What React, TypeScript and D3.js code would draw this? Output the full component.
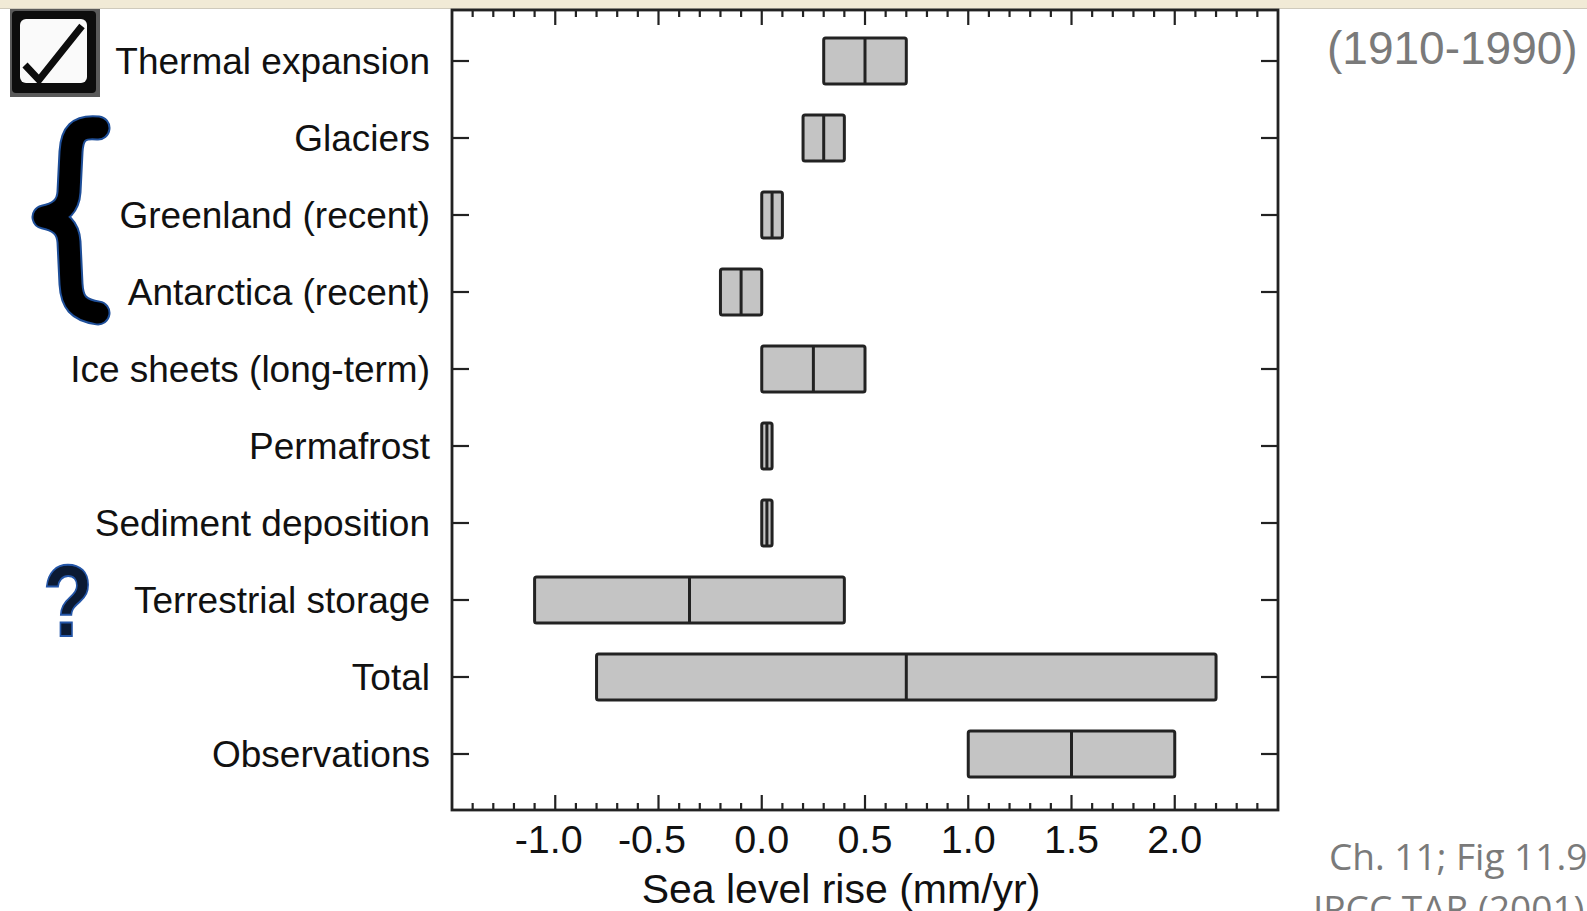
import * as React from 'react'
import * as d3 from 'd3'

// IPCC TAR fig 11.9 style contributions to sea level rise (1910-1990)
const categories = [
  'Thermal expansion',
  'Glaciers',
  'Greenland (recent)',
  'Antarctica (recent)',
  'Ice sheets (long-term)',
  'Permafrost',
  'Sediment deposition',
  'Terrestrial storage',
  'Total',
  'Observations',
]
const lows = [0.3, 0.2, 0.0, -0.2, 0.0, 0.0, 0.0, -1.1, -0.8, 1.0]
const highs = [0.7, 0.4, 0.1, 0.0, 0.5, 0.05, 0.05, 0.4, 2.2, 2.0]
const mids = [0.5, 0.3, 0.05, -0.1, 0.25, 0.025, 0.025, -0.35, 0.7, 1.5]
const tickLabels = ['-1.0', '-0.5', '0.0', '0.5', '1.0', '1.5', '2.0']

const W = 1587
const H = 911
const left = 452
const right = 1278
const top = 10
const bottom = 810

const App = () => {
  const x = d3.scaleLinear().domain([-1.5, 2.5]).range([left, right])
  const y = d3.scalePoint<string>().domain(categories).range([61, 754])
  const halfH = 23
  const font = '"Liberation Sans", Arial, Helvetica, sans-serif'

  const ticks = x.ticks(40).filter(t => t > -1.49 && t < 2.49)
  const isMajor = (t: number) => Math.abs(t * 2 - Math.round(t * 2)) < 1e-6
  const brace =
    'M98,128 C78,126 72,134 71,152 L69,192 C68,208 58,214 44,217 C58,220 68,226 69,242 L71,284 C72,302 78,310 98,313'

  return (
    <svg width={W} height={H} style={{ position: 'absolute', left: 0, top: 0, background: '#fff' }}>
      {/* top strip */}
      <rect x={0} y={0} width={W} height={8} fill="#f1ead6" />
      <line x1={0} x2={W} y1={8.5} y2={8.5} stroke="#cfcabc" strokeWidth={1} />

      {/* boxes */}
      {categories.map((c, i) => {
        const cy = y(c)!
        return (
          <g key={c}>
            <rect
              x={x(lows[i])}
              y={cy - halfH}
              width={x(highs[i]) - x(lows[i])}
              height={halfH * 2}
              rx={2}
              fill="#c4c4c4"
              stroke="#222"
              strokeWidth={3}
            />
            <line x1={x(mids[i])} x2={x(mids[i])} y1={cy - halfH} y2={cy + halfH} stroke="#222" strokeWidth={3} />
          </g>
        )
      })}

      {/* frame */}
      <rect x={left} y={top} width={right - left} height={bottom - top} fill="none" stroke="#222" strokeWidth={2.8} />

      {/* x ticks top and bottom, pointing inward */}
      {ticks.map(t => {
        const len = isMajor(t) ? 15 : 7
        return (
          <g key={t}>
            <line x1={x(t)} x2={x(t)} y1={bottom} y2={bottom - len} stroke="#222" strokeWidth={2.2} />
            <line x1={x(t)} x2={x(t)} y1={top} y2={top + len} stroke="#222" strokeWidth={2.2} />
          </g>
        )
      })}

      {/* y ticks left and right */}
      {categories.map(c => (
        <g key={'t' + c}>
          <line x1={left} x2={left + 17} y1={y(c)} y2={y(c)} stroke="#222" strokeWidth={2.2} />
          <line x1={right} x2={right - 17} y1={y(c)} y2={y(c)} stroke="#222" strokeWidth={2.2} />
        </g>
      ))}

      {/* category labels */}
      {categories.map(c => (
        <text key={'l' + c} x={430} y={y(c)! + 13} textAnchor="end" fontFamily={font} fontSize={37} fill="#111">
          {c}
        </text>
      ))}

      {/* x tick labels */}
      {tickLabels.map(l => {
        const v = +l
        return (
          <text
            key={l}
            x={x(v) + (v < 0 ? -6.5 : 0)}
            y={853}
            textAnchor="middle"
            fontFamily={font}
            fontSize={39.5}
            fill="#111"
          >
            {l}
          </text>
        )
      })}
      <text x={841} y={903} textAnchor="middle" fontFamily={font} fontSize={41} fill="#111">
        Sea level rise (mm/yr)
      </text>

      {/* annotations */}
      <text x={1327} y={64} fontFamily={font} fontSize={46} fill="#7a7a7a">
        (1910-1990)
      </text>
      <text x={1329} y={870} fontFamily='"Open Sans", "Noto Sans", sans-serif' fontSize={37} fill="#7a7a7a">
        Ch. 11; Fig 11.9
      </text>
      <text x={1313} y={922} fontFamily='"Open Sans", "Noto Sans", sans-serif' fontSize={37} fill="#7a7a7a">
        IPCC TAR (2001)
      </text>

      {/* checkbox icon */}
      <rect x={10} y={9} width={90} height={88} fill="#5a5a5a" />
      <rect x={12} y={11} width={84} height={82} rx={4} fill="#0d0d0d" />
      <rect x={20} y={19} width={67} height={64} rx={6} fill="#fafafa" />
      <path d="M25,65 L39,80 L82,26" fill="none" stroke="#0d0d0d" strokeWidth={7} strokeLinejoin="miter" />

      {/* brace */}
      <path d={brace} fill="none" stroke="#1f4f99" strokeWidth={25} strokeLinecap="round" strokeLinejoin="round" />
      <path d={brace} fill="none" stroke="#000" strokeWidth={21} strokeLinecap="round" strokeLinejoin="round" />

      {/* question mark */}
      <text
        x={0}
        y={0}
        transform="translate(43,636) scale(0.8,1)"
        fontFamily={font}
        fontWeight="bold"
        fontSize={102}
        fill="#0b1a33"
        stroke="#2456a8"
        strokeWidth={2}
      >
        ?
      </text>
    </svg>
  )
}

export default App
